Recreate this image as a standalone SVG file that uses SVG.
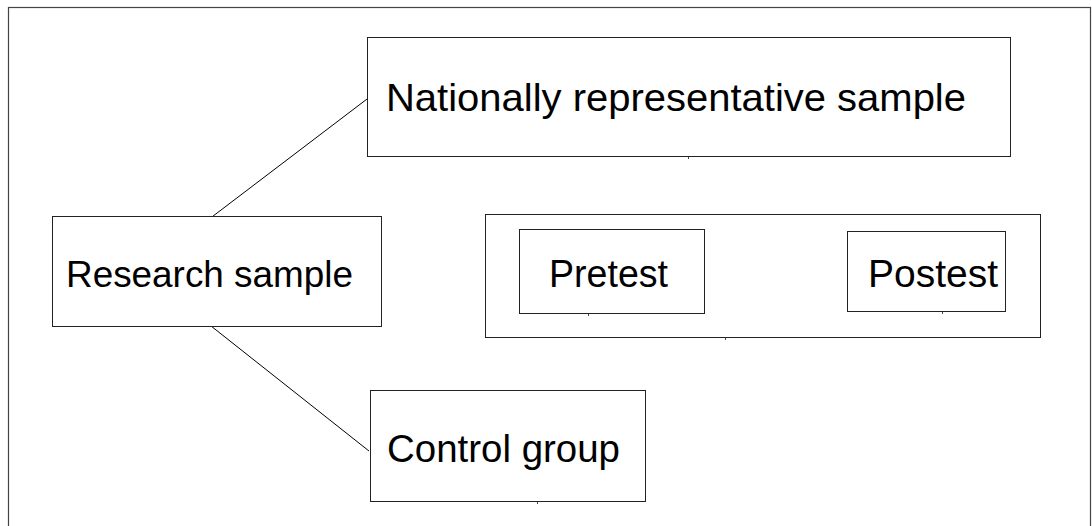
<svg xmlns="http://www.w3.org/2000/svg" width="1092" height="526" viewBox="0 0 1092 526">
<style>
.box{fill:#fff;stroke:#222;stroke-width:1}
.frame{fill:none;stroke:#444;stroke-width:1.2}
.lbl{font-family:"Liberation Sans",Arial,sans-serif;font-size:38px;fill:#000}
.conn{stroke:#000;stroke-width:1;fill:none}
.tick{stroke:#444;stroke-width:1}
</style>
<rect width="1092" height="526" fill="#fff"/>
<rect class="frame" x="8.5" y="7.5" width="1082" height="540"/>
<g id="connectors">
<line class="conn" x1="212.5" y1="216.5" x2="369" y2="97.5"/>
<line class="conn" x1="208.5" y1="324" x2="369" y2="451"/>
</g>
<g id="node-national">
<rect class="box" x="367.5" y="37.5" width="643" height="119"/>
<text class="lbl" x="386" y="111" style="font-size:39px" textLength="580" lengthAdjust="spacingAndGlyphs">Nationally representative sample</text>
<line class="tick" x1="688.5" y1="157" x2="688.5" y2="159"/>
</g>
<g id="node-research">
<rect class="box" x="52.5" y="216.5" width="329" height="110"/>
<text class="lbl" x="66" y="287" style="font-size:36.5px" textLength="287" lengthAdjust="spacingAndGlyphs">Research sample</text>
</g>
<g id="node-tests">
<rect class="box" x="485.5" y="214.5" width="555" height="123"/>
<line class="tick" x1="725.5" y1="338" x2="725.5" y2="340"/>
</g>
<g id="node-pretest">
<rect class="box" x="519.5" y="229.5" width="185" height="84"/>
<text class="lbl" x="549" y="287" textLength="119" lengthAdjust="spacingAndGlyphs">Pretest</text>
<line class="tick" x1="588.5" y1="314" x2="588.5" y2="316"/>
</g>
<g id="node-postest">
<rect class="box" x="847.5" y="231.5" width="158" height="80"/>
<text class="lbl" x="868" y="287" textLength="130" lengthAdjust="spacingAndGlyphs">Postest</text>
<line class="tick" x1="942.5" y1="312" x2="942.5" y2="314"/>
</g>
<g id="node-control">
<rect class="box" x="370.5" y="390.5" width="275" height="111"/>
<text class="lbl" x="387" y="462" textLength="233" lengthAdjust="spacingAndGlyphs">Control group</text>
<line class="tick" x1="537.5" y1="502" x2="537.5" y2="504"/>
</g>
</svg>
